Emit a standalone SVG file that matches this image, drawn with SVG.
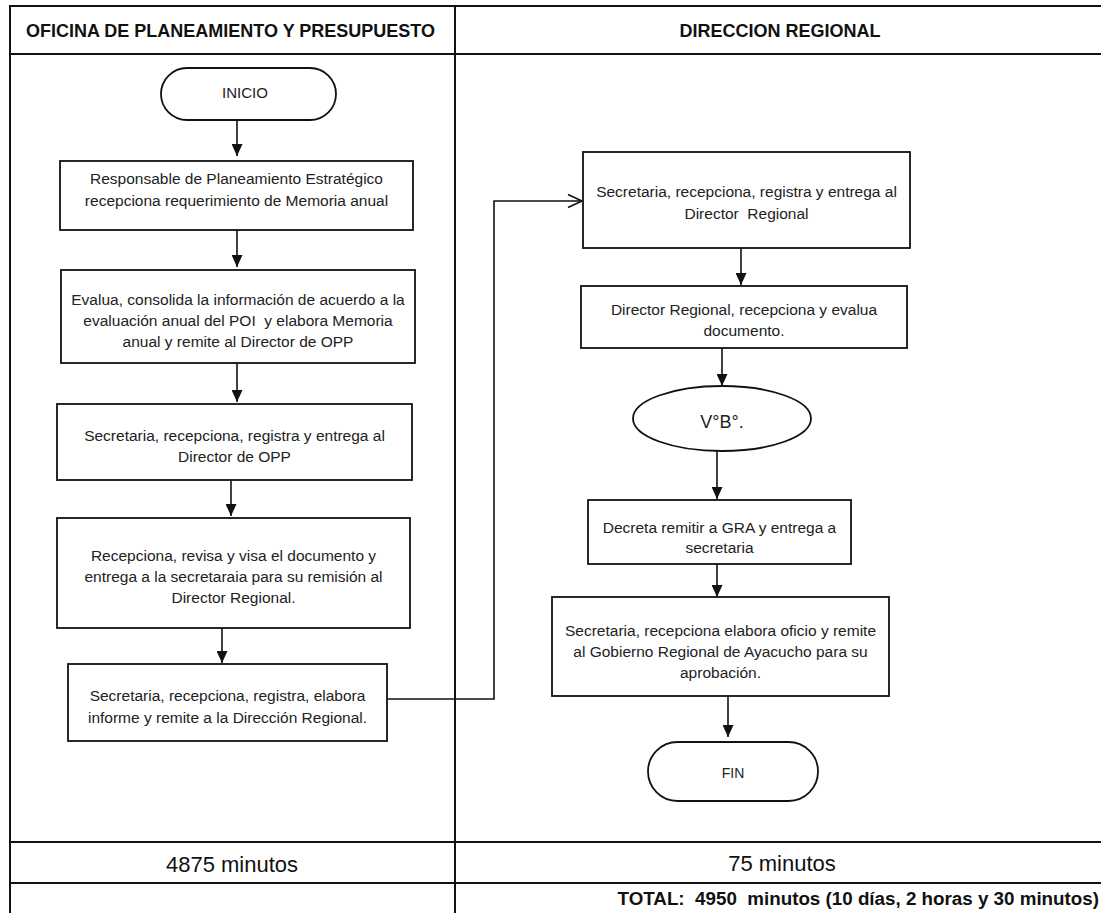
<svg xmlns="http://www.w3.org/2000/svg" width="1101" height="913" viewBox="0 0 1101 913">
<style>
.bg{fill:#ffffff}
.tl{stroke:#111;stroke-width:2;fill:none}
.box{fill:#fff;stroke:#111;stroke-width:1.8}
.cn{stroke:#111;stroke-width:1.6;fill:none}
.t{font-family:"Liberation Sans",Arial,sans-serif;font-size:15.5px;text-anchor:middle;fill:#222}
.h{font-family:"Liberation Sans",Arial,sans-serif;font-size:18px;font-weight:bold;text-anchor:middle;fill:#111}
.m{font-family:"Liberation Sans",Arial,sans-serif;font-size:22px;text-anchor:middle;fill:#111}
.tot{font-family:"Liberation Sans",Arial,sans-serif;font-size:18.8px;font-weight:bold;text-anchor:end;fill:#111}
</style>
<defs>
<marker id="arr" viewBox="0 0 12 11" refX="12" refY="5.5" markerWidth="12" markerHeight="11" markerUnits="userSpaceOnUse" orient="auto">
<path d="M0,0 L12,5.5 L0,11 z" fill="#111"/>
</marker>
<marker id="open" viewBox="0 0 16 16" refX="15" refY="8" markerWidth="16" markerHeight="16" markerUnits="userSpaceOnUse" orient="auto" overflow="visible">
<path d="M1,1.5 L15,8 L1,14.5" fill="none" stroke="#111" stroke-width="1.6"/>
</marker>
</defs>
<rect class="bg" x="0" y="0" width="1101" height="913"/>
<g id="table">
<line class="tl" x1="10" y1="6" x2="1101" y2="6"/>
<line class="tl" x1="10" y1="54" x2="1101" y2="54"/>
<line class="tl" x1="10" y1="842" x2="1101" y2="842"/>
<line class="tl" x1="10" y1="883" x2="1101" y2="883"/>
<line class="tl" x1="10" y1="5" x2="10" y2="913"/>
<line class="tl" x1="455" y1="5" x2="455" y2="913"/>
<text class="h" x="230.5" y="37">OFICINA DE PLANEAMIENTO Y PRESUPUESTO</text>
<text class="h" x="780" y="37">DIRECCION REGIONAL</text>
<text class="m" x="232" y="872">4875 minutos</text>
<text class="m" x="782" y="871">75 minutos</text>
<text class="tot" x="1099" y="905" xml:space="preserve">TOTAL:  4950  minutos (10 días, 2 horas y 30 minutos)</text>
</g>
<g id="connectors">
<line class="cn" x1="237" y1="120" x2="237" y2="156" marker-end="url(#arr)"/>
<line class="cn" x1="237" y1="230" x2="237" y2="267" marker-end="url(#arr)"/>
<line class="cn" x1="237" y1="363" x2="237" y2="402" marker-end="url(#arr)"/>
<line class="cn" x1="231" y1="480" x2="231" y2="516" marker-end="url(#arr)"/>
<line class="cn" x1="222" y1="628" x2="222" y2="663" marker-end="url(#arr)"/>
<path class="cn" d="M387,699 H494 V201 H582" marker-end="url(#open)"/>
<line class="cn" x1="741" y1="248" x2="741" y2="285" marker-end="url(#arr)"/>
<line class="cn" x1="722" y1="348" x2="722" y2="386" marker-end="url(#arr)"/>
<line class="cn" x1="717" y1="451" x2="717" y2="499" marker-end="url(#arr)"/>
<line class="cn" x1="717" y1="564" x2="717" y2="597" marker-end="url(#arr)"/>
<line class="cn" x1="728" y1="696" x2="728" y2="737" marker-end="url(#arr)"/>
</g>
<g id="inicio">
<rect class="box" x="161" y="68" width="175" height="52" rx="26" ry="26"/>
<text class="t" x="245" y="98" style="font-size:15px">INICIO</text>
</g>
<g id="n1">
<rect class="box" x="60" y="161" width="353" height="69"/>
<text class="t" x="236.5" y="184">Responsable de Planeamiento Estratégico</text>
<text class="t" x="236.5" y="206">recepciona requerimiento de Memoria anual</text>
</g>
<g id="n2">
<rect class="box" x="61" y="270" width="354" height="93"/>
<text class="t" x="238" y="305">Evalua, consolida la información de acuerdo a la</text>
<text class="t" x="238" y="326" xml:space="preserve">evaluación anual del POI  y elabora Memoria</text>
<text class="t" x="238" y="347">anual y remite al Director de OPP</text>
</g>
<g id="n3">
<rect class="box" x="57" y="404" width="355" height="76"/>
<text class="t" x="234.5" y="441">Secretaria, recepciona, registra y entrega al</text>
<text class="t" x="234.5" y="462">Director de OPP</text>
</g>
<g id="n4">
<rect class="box" x="57" y="518" width="353" height="110"/>
<text class="t" x="233.5" y="561">Recepciona, revisa y visa el documento y</text>
<text class="t" x="233.5" y="582">entrega a la secretaraia para su remisión al</text>
<text class="t" x="233.5" y="603">Director Regional.</text>
</g>
<g id="n5">
<rect class="box" x="68" y="664" width="319" height="77"/>
<text class="t" x="227.5" y="701">Secretaria, recepciona, registra, elabora</text>
<text class="t" x="227.5" y="723">informe y remite a la Dirección Regional.</text>
</g>
<g id="n6">
<rect class="box" x="583" y="152" width="327" height="96"/>
<text class="t" x="746.5" y="197">Secretaria, recepciona, registra y entrega al</text>
<text class="t" x="746.5" y="219" xml:space="preserve">Director  Regional</text>
</g>
<g id="n7">
<rect class="box" x="581" y="286" width="326" height="62"/>
<text class="t" x="744" y="315">Director Regional, recepciona y evalua</text>
<text class="t" x="744" y="336">documento.</text>
</g>
<g id="vb">
<ellipse class="box" cx="722" cy="418.5" rx="89" ry="32.5"/>
<text class="t" x="722" y="428" style="font-size:18px">V°B°.</text>
</g>
<g id="n8">
<rect class="box" x="588" y="500" width="263" height="64"/>
<text class="t" x="719.5" y="533">Decreta remitir a GRA y entrega a</text>
<text class="t" x="719.5" y="553">secretaria</text>
</g>
<g id="n9">
<rect class="box" x="552" y="597" width="337" height="99"/>
<text class="t" x="720.5" y="636">Secretaria, recepciona elabora oficio y remite</text>
<text class="t" x="720.5" y="657">al Gobierno Regional de Ayacucho para su</text>
<text class="t" x="720.5" y="678">aprobación.</text>
</g>
<g id="fin">
<rect class="box" x="648" y="742" width="170" height="59" rx="29.5" ry="29.5"/>
<text class="t" x="733" y="778" style="font-size:14px">FIN</text>
</g>
</svg>
